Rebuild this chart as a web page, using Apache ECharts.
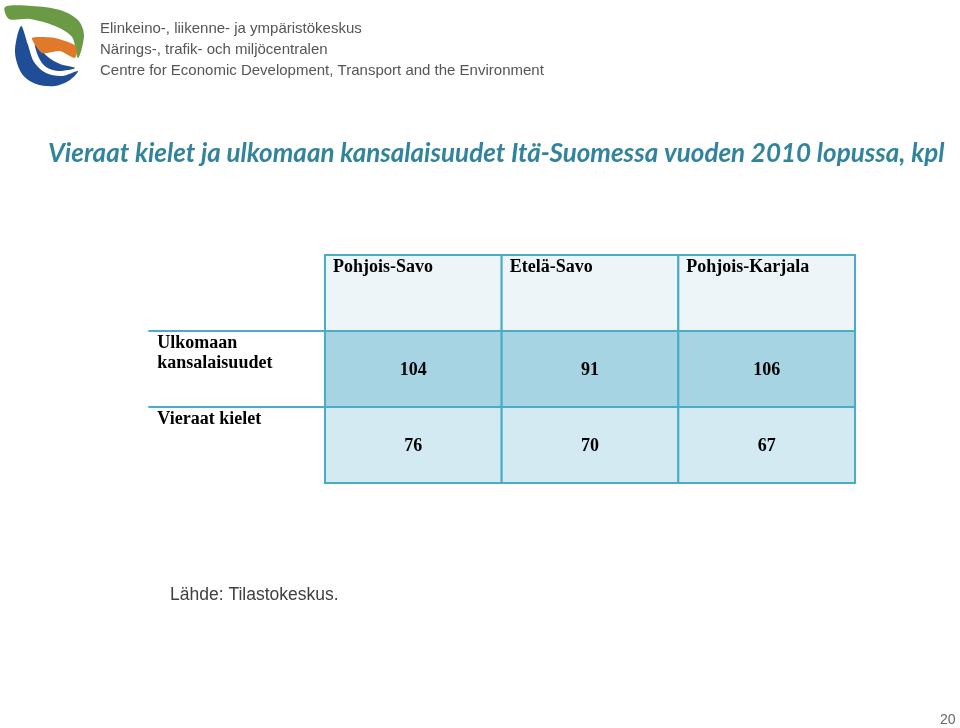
<!DOCTYPE html>
<html>
<head>
<meta charset="utf-8">
<script src="https://cdn.jsdelivr.net/npm/echarts@6/dist/echarts.min.js"></script>
<style>
  html, body { margin: 0; padding: 0; background: #fff; }
  #chart { width: 960px; height: 728px; }
</style>
</head>
<body>
<div id="chart"></div>
<script>
const regions = ['Pohjois-Savo', 'Etelä-Savo', 'Pohjois-Karjala'];
const rowLabels = ['Ulkomaan\nkansalaisuudet', 'Vieraat kielet'];
const foreignCitizenships = [104, 91, 106];
const foreignLanguages = [76, 70, 67];

const colorBorder = '#4bacc6';
const rowFills = ['#edf5f8', '#a6d4e2', '#d3eaf2'];
const cellFont = '"Liberation Serif", "DejaVu Serif", serif';

// y categories: header row first, then the two data rows
const yCats = ['header'].concat(rowLabels);
const cells = [];
regions.forEach(function (name, i) {
    cells.push([i, 0, name]);
    cells.push([i, 1, foreignCitizenships[i]]);
    cells.push([i, 2, foreignLanguages[i]]);
});

function renderCell(params, api) {
    const col = api.value(0);
    const row = api.value(1);
    const c = api.coord([col, row]);
    const s = api.size([1, 1]);
    const x0 = c[0] - s[0] / 2;
    const y0 = c[1] - s[1] / 2;
    const label = cells[params.dataIndex][2];
    const children = [{
        type: 'rect',
        shape: { x: x0, y: y0, width: s[0], height: s[1] },
        style: { fill: rowFills[row], stroke: colorBorder, lineWidth: 2 }
    }];
    if (row === 0) {
        children.push({
            type: 'text',
            style: {
                x: x0 + 8, y: y0 + 3, text: label,
                font: 'bold 18px ' + cellFont, fill: '#000',
                align: 'left', verticalAlign: 'top'
            }
        });
    } else {
        children.push({
            type: 'text',
            style: {
                x: c[0], y: c[1] + 1, text: String(label),
                font: 'bold 18px ' + cellFont, fill: '#000',
                align: 'center', verticalAlign: 'middle'
            }
        });
        if (col === 0) {
            children.push({
                type: 'line',
                shape: { x1: x0 - s[0], y1: y0, x2: x0, y2: y0 },
                style: { stroke: colorBorder, lineWidth: 2 }
            });
            children.push({
                type: 'text',
                style: {
                    x: x0 - s[0] + 9, y: y0 + 2, text: yCats[row],
                    font: 'bold 18px ' + cellFont, fill: '#000', lineHeight: 20,
                    align: 'left', verticalAlign: 'top'
                }
            });
        }
    }
    return { type: 'group', children: children };
}

const logoFont = '15px "Liberation Sans", Arial, sans-serif';

const option = {
    backgroundColor: '#fff',
    animation: false,
    title: {
        text: 'Vieraat kielet ja ulkomaan kansalaisuudet Itä-Suomessa vuoden 2010 lopussa, kpl',
        left: 43,
        top: 136,
        textStyle: {
            fontFamily: 'Lato, "Open Sans", sans-serif',
            fontStyle: 'italic',
            fontWeight: 'bold',
            fontSize: 26,
            color: '#31849b'
        }
    },
    grid: { left: 325, top: 255, width: 530, height: 228 },
    xAxis: { type: 'category', data: regions, show: false },
    yAxis: { type: 'category', data: yCats, inverse: true, show: false },
    series: [{
        type: 'custom',
        renderItem: renderCell,
        data: cells.map(function (d) { return [d[0], d[1]]; })
    }],
    graphic: [
        // logo, rough shapes
        {
            type: 'polygon',
            shape: { smooth: 0.3, points: [[5, 7], [32, 6], [60, 10], [78, 20], [84, 35], [78, 58], [72, 37], [55, 26], [30, 19], [9, 19]] },
            style: { fill: '#6b9a45' }
        },
        {
            type: 'polygon',
            shape: { smooth: 0.3, points: [[21, 26], [15, 52], [22, 74], [36, 84], [55, 86], [70, 80], [78, 71], [62, 76], [46, 73], [34, 62], [28, 45]] },
            style: { fill: '#1f4e96' }
        },
        {
            type: 'polygon',
            shape: { smooth: 0.3, points: [[35, 44], [39, 58], [46, 67], [58, 71], [75, 68], [60, 64], [48, 57]] },
            style: { fill: '#1f4e96' }
        },
        {
            type: 'polygon',
            shape: { smooth: 0.2, points: [[32, 38], [55, 38], [76, 46], [75, 58], [60, 51], [42, 53]] },
            style: { fill: '#e07a2a' }
        },
        {
            type: 'text', left: 100, top: 21,
            style: { text: 'Elinkeino-, liikenne- ja ympäristökeskus', font: logoFont, fill: '#555' }
        },
        {
            type: 'text', left: 100, top: 42,
            style: { text: 'Närings-, trafik- och miljöcentralen', font: logoFont, fill: '#555' }
        },
        {
            type: 'text', left: 100, top: 63,
            style: { text: 'Centre for Economic Development, Transport and the Environment', font: logoFont, fill: '#555' }
        },
        {
            type: 'text', left: 170, top: 586,
            style: { text: 'Lähde: Tilastokeskus.', font: '17.5px "Liberation Sans", Arial, sans-serif', fill: '#404040' }
        },
        {
            type: 'text', left: 940, top: 713,
            style: { text: '20', font: '14px "Liberation Sans", Arial, sans-serif', fill: '#666' }
        }
    ]
};

const chart = echarts.init(document.getElementById('chart'));
chart.setOption(option);
</script>
</body>
</html>
